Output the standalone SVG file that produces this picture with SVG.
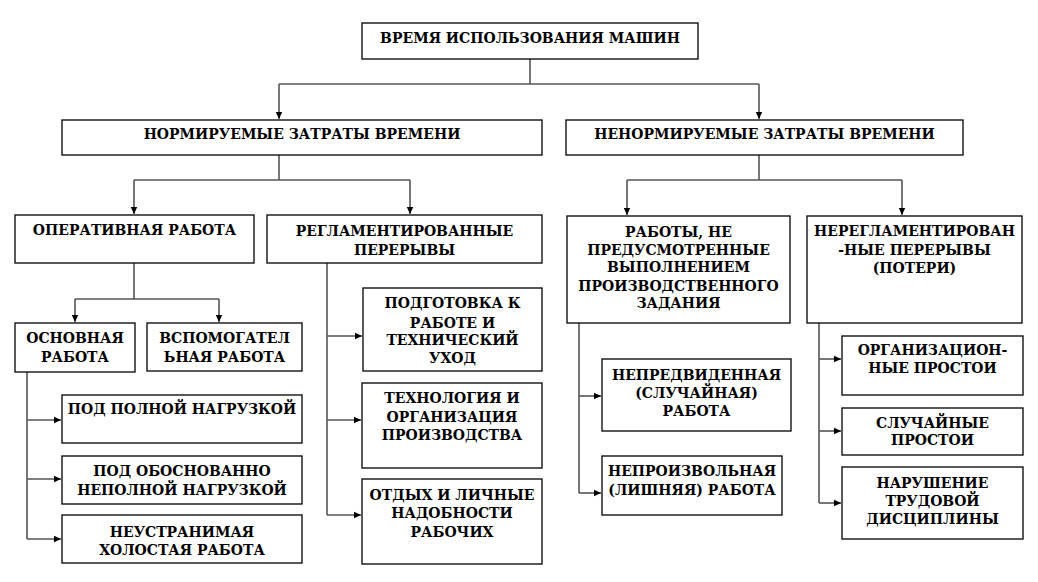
<svg xmlns="http://www.w3.org/2000/svg" width="1038" height="582" viewBox="0 0 1038 582">
<style>
.b{fill:#fff;stroke:#000;stroke-width:1.3}
.c{fill:none;stroke:#555;stroke-width:1.6}
.t{fill:#000}
</style>
<defs>
<marker id="a" markerWidth="8" markerHeight="8" refX="7" refY="4" orient="auto" markerUnits="userSpaceOnUse">
<path d="M0,0.8 L7,4 L0,7.2 Z" fill="#000"/>
</marker>
</defs>
<rect width="1038" height="582" fill="#fff"/>
<g id="connectors">
<path class="c" d="M530,59 V84 M279,84 H759"/>
<path class="c" d="M279,84 V119" marker-end="url(#a)"/>
<path class="c" d="M759,84 V119" marker-end="url(#a)"/>
<path class="c" d="M279,155 V180 M134,180 H410"/>
<path class="c" d="M134,180 V214" marker-end="url(#a)"/>
<path class="c" d="M410,180 V214" marker-end="url(#a)"/>
<path class="c" d="M759,155 V180 M627,180 H902"/>
<path class="c" d="M627,180 V215" marker-end="url(#a)"/>
<path class="c" d="M902,180 V215" marker-end="url(#a)"/>
<path class="c" d="M134,263 V299 M75,299 H219"/>
<path class="c" d="M75,299 V322" marker-end="url(#a)"/>
<path class="c" d="M219,299 V322" marker-end="url(#a)"/>
<path class="c" d="M27,372 V539"/>
<path class="c" d="M27,420 H61" marker-end="url(#a)"/>
<path class="c" d="M27,479 H61" marker-end="url(#a)"/>
<path class="c" d="M27,539 H61" marker-end="url(#a)"/>
<path class="c" d="M327,263 V515"/>
<path class="c" d="M327,336 H362" marker-end="url(#a)"/>
<path class="c" d="M327,420 H361" marker-end="url(#a)"/>
<path class="c" d="M327,515 H361" marker-end="url(#a)"/>
<path class="c" d="M579,323 V493"/>
<path class="c" d="M579,396 H601" marker-end="url(#a)"/>
<path class="c" d="M579,493 H601" marker-end="url(#a)"/>
<path class="c" d="M819,323 V503"/>
<path class="c" d="M819,359 H841" marker-end="url(#a)"/>
<path class="c" d="M819,431 H841" marker-end="url(#a)"/>
<path class="c" d="M819,503 H841" marker-end="url(#a)"/>
</g>
<g font-size="14" font-weight="bold" text-anchor="middle">
<g id="n-root"><rect class="b" x="362" y="23" width="336" height="36"/><text class="t" font-family="DejaVu Serif" x="530" y="42.5">ВРЕМЯ ИСПОЛЬЗОВАНИЯ МАШИН</text></g>
<g id="n-norm"><rect class="b" x="62" y="120" width="480" height="35"/><text class="t" font-family="DejaVu Serif" x="302" y="139">НОРМИРУЕМЫЕ ЗАТРАТЫ ВРЕМЕНИ</text></g>
<g id="n-nenorm"><rect class="b" x="566" y="120" width="397" height="35"/><text class="t" font-family="DejaVu Serif" x="764.5" y="139">НЕНОРМИРУЕМЫЕ ЗАТРАТЫ ВРЕМЕНИ</text></g>
<g id="n-oper"><rect class="b" x="15" y="215" width="239" height="48"/><text class="t" font-family="DejaVu Serif" x="134.5" y="235">ОПЕРАТИВНАЯ РАБОТА</text></g>
<g id="n-reglam"><rect class="b" x="267" y="215" width="275" height="48"/><text class="t" font-family="DejaVu Serif" x="404.5" y="236">РЕГЛАМЕНТИРОВАННЫЕ</text><text class="t" font-family="DejaVu Serif" x="404.5" y="255">ПЕРЕРЫВЫ</text></g>
<g id="n-raboty"><rect class="b" x="567" y="216" width="223" height="107"/><text class="t" font-family="DejaVu Serif" x="678.5" y="237">РАБОТЫ, НЕ</text><text class="t" font-family="DejaVu Serif" x="678.5" y="254.5">ПРЕДУСМОТРЕННЫЕ</text><text class="t" font-family="DejaVu Serif" x="678.5" y="272">ВЫПОЛНЕНИЕМ</text><text class="t" font-family="DejaVu Serif" x="678.5" y="290.5">ПРОИЗВОДСТВЕННОГО</text><text class="t" font-family="DejaVu Serif" x="678.5" y="308">ЗАДАНИЯ</text></g>
<g id="n-nereglam"><rect class="b" x="807" y="216" width="215" height="107"/><text class="t" font-family="DejaVu Serif" x="914.5" y="236">НЕРЕГЛАМЕНТИРОВАН</text><text class="t" font-family="DejaVu Serif" x="914.5" y="255">-НЫЕ ПЕРЕРЫВЫ</text><text class="t" font-family="DejaVu Serif" x="914.5" y="273">(ПОТЕРИ)</text></g>
<g id="n-osn"><rect class="b" x="15" y="323" width="120" height="49"/><text class="t" font-family="DejaVu Serif" x="75" y="343">ОСНОВНАЯ</text><text class="t" font-family="DejaVu Serif" x="75" y="362">РАБОТА</text></g>
<g id="n-vspom"><rect class="b" x="147" y="323" width="155" height="48"/><text class="t" font-family="DejaVu Serif" x="224.5" y="343">ВСПОМОГАТЕЛ</text><text class="t" font-family="DejaVu Serif" x="224.5" y="362">ЬНАЯ РАБОТА</text></g>
<g id="n-poln"><rect class="b" x="62" y="395" width="240" height="48"/><text class="t" font-family="DejaVu Serif" x="182" y="414">ПОД ПОЛНОЙ НАГРУЗКОЙ</text></g>
<g id="n-neposn"><rect class="b" x="62" y="456" width="240" height="48"/><text class="t" font-family="DejaVu Serif" x="182" y="476">ПОД ОБОСНОВАННО</text><text class="t" font-family="DejaVu Serif" x="182" y="495">НЕПОЛНОЙ НАГРУЗКОЙ</text></g>
<g id="n-holost"><rect class="b" x="62" y="515" width="240" height="48"/><text class="t" font-family="DejaVu Serif" x="182" y="537">НЕУСТРАНИМАЯ</text><text class="t" font-family="DejaVu Serif" x="182" y="555">ХОЛОСТАЯ РАБОТА</text></g>
<g id="n-podg"><rect class="b" x="363" y="288" width="179" height="83"/><text class="t" font-family="DejaVu Serif" x="452.5" y="308">ПОДГОТОВКА К</text><text class="t" font-family="DejaVu Serif" x="452.5" y="327.5">РАБОТЕ И</text><text class="t" font-family="DejaVu Serif" x="452.5" y="345">ТЕХНИЧЕСКИЙ</text><text class="t" font-family="DejaVu Serif" x="452.5" y="363">УХОД</text></g>
<g id="n-tehn"><rect class="b" x="362" y="383" width="180" height="85"/><text class="t" font-family="DejaVu Serif" x="452" y="403">ТЕХНОЛОГИЯ И</text><text class="t" font-family="DejaVu Serif" x="452" y="422">ОРГАНИЗАЦИЯ</text><text class="t" font-family="DejaVu Serif" x="452" y="440">ПРОИЗВОДСТВА</text></g>
<g id="n-otdyh"><rect class="b" x="362" y="479" width="180" height="85"/><text class="t" font-family="DejaVu Serif" x="452" y="500">ОТДЫХ И ЛИЧНЫЕ</text><text class="t" font-family="DejaVu Serif" x="452" y="518">НАДОБНОСТИ</text><text class="t" font-family="DejaVu Serif" x="452" y="537">РАБОЧИХ</text></g>
<g id="n-nepred"><rect class="b" x="602" y="359" width="189" height="72"/><text class="t" font-family="DejaVu Serif" x="696.5" y="380">НЕПРЕДВИДЕННАЯ</text><text class="t" font-family="DejaVu Serif" x="696.5" y="398">(СЛУЧАЙНАЯ)</text><text class="t" font-family="DejaVu Serif" x="696.5" y="416">РАБОТА</text></g>
<g id="n-neproizv"><rect class="b" x="602" y="456" width="180" height="59"/><text class="t" font-family="DejaVu Serif" x="692" y="476">НЕПРОИЗВОЛЬНАЯ</text><text class="t" font-family="DejaVu Serif" x="692" y="495">(ЛИШНЯЯ) РАБОТА</text></g>
<g id="n-org"><rect class="b" x="842" y="336" width="181" height="59"/><text class="t" font-family="DejaVu Serif" x="932.5" y="355">ОРГАНИЗАЦИОН-</text><text class="t" font-family="DejaVu Serif" x="932.5" y="373">НЫЕ ПРОСТОИ</text></g>
<g id="n-sluch"><rect class="b" x="842" y="408" width="181" height="47"/><text class="t" font-family="DejaVu Serif" x="932.5" y="428">СЛУЧАЙНЫЕ</text><text class="t" font-family="DejaVu Serif" x="932.5" y="445">ПРОСТОИ</text></g>
<g id="n-narush"><rect class="b" x="842" y="467" width="181" height="72"/><text class="t" font-family="DejaVu Serif" x="932.5" y="488">НАРУШЕНИЕ</text><text class="t" font-family="DejaVu Serif" x="932.5" y="506">ТРУДОВОЙ</text><text class="t" font-family="DejaVu Serif" x="932.5" y="524">ДИСЦИПЛИНЫ</text></g>
</g>
</svg>
